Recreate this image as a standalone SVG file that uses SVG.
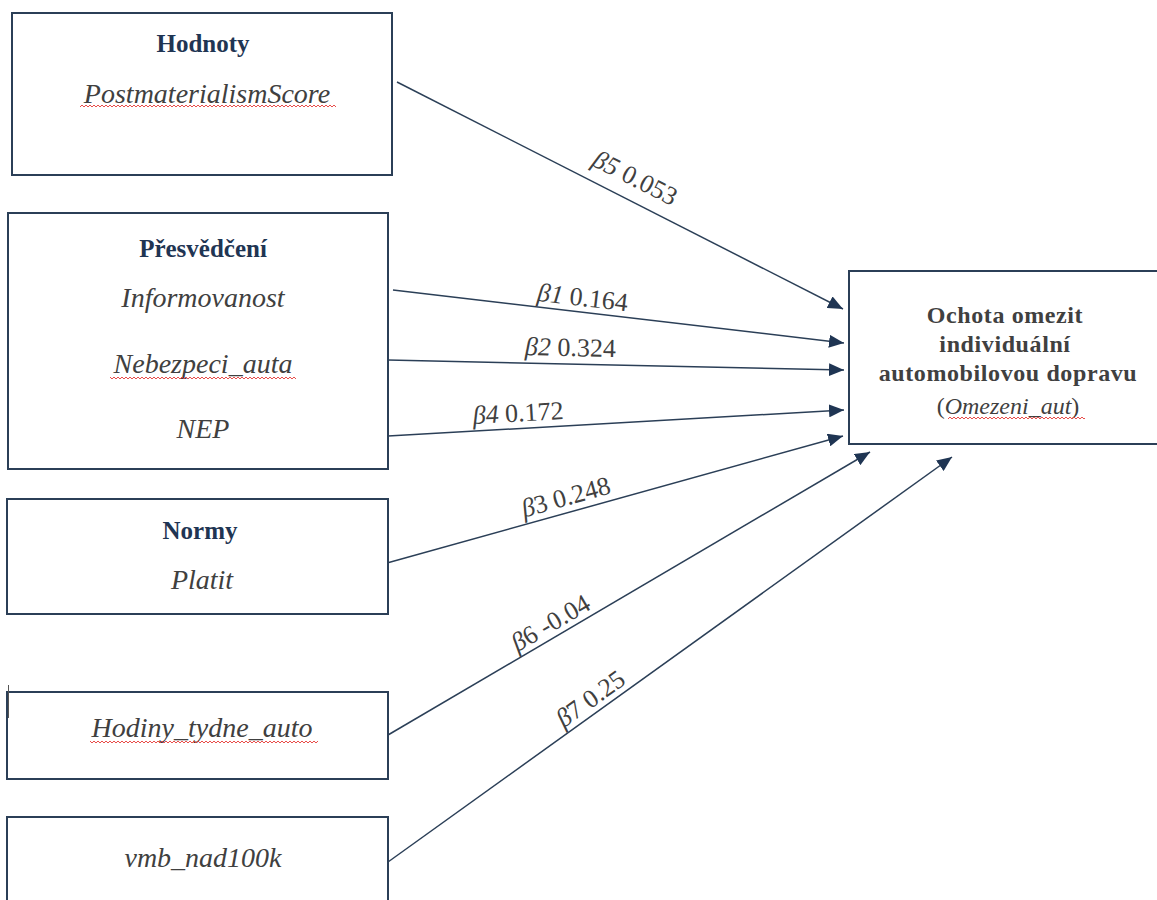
<svg xmlns="http://www.w3.org/2000/svg" width="1157" height="900" viewBox="0 0 1157 900">
<style>
.box{fill:#fff;stroke:#2b3f57;stroke-width:2}
.head{font-family:"Liberation Serif",serif;font-weight:bold;font-size:25px;fill:#1f3553;text-anchor:middle}
.var{font-family:"Liberation Serif",serif;font-style:italic;font-size:28px;fill:#404040;text-anchor:middle}
.tgt{font-family:"Liberation Serif",serif;font-weight:bold;font-size:24px;fill:#404040;text-anchor:middle;letter-spacing:0.6px}
.conn line{stroke:#2b3f57;stroke-width:1.5;marker-end:url(#ah)}
.lbl{font-family:"Liberation Serif",serif;font-size:26px;fill:#404040;text-anchor:middle}
.it{font-style:italic}
.sq{fill:url(#wave)}
</style>
<defs>
<marker id="ah" markerUnits="userSpaceOnUse" markerWidth="16" markerHeight="13" refX="15" refY="6.5" orient="auto">
<path d="M0,0 L15,6.5 L0,13 Z" fill="#1f3553"/>
</marker>
<pattern id="wave" patternUnits="userSpaceOnUse" width="4" height="4">
<path d="M0,3 L2,1 L4,3" fill="none" stroke="#e53935" stroke-width="0.9"/>
</pattern>
</defs>

<g id="conn" class="conn">
<line x1="397" y1="82" x2="843" y2="309"/>
<line x1="393" y1="290" x2="844" y2="343"/>
<line x1="388" y1="360" x2="844" y2="370"/>
<line x1="388" y1="436" x2="844" y2="410"/>
<line x1="387" y1="563" x2="843" y2="436"/>
<line x1="388" y1="735" x2="870" y2="452"/>
<line x1="388" y1="862" x2="952" y2="457"/>
</g>

<g id="labels">
<text class="lbl" transform="translate(625,198) rotate(26.97)" y="-14"><tspan class="it">β5</tspan> 0.053</text>
<text class="lbl" transform="translate(581,312) rotate(6.7)" y="-6"><tspan class="it">β1</tspan> 0.164</text>
<text class="lbl" transform="translate(570,364) rotate(1.26)" y="-8"><tspan class="it">β2</tspan> 0.324</text>
<text class="lbl" transform="translate(519,428.5) rotate(-3.26)" y="-7"><tspan class="it">β4</tspan> 0.172</text>
<text class="lbl" transform="translate(570,512) rotate(-15.6)" y="-7"><tspan class="it">β</tspan>3 0.248</text>
<text class="lbl" transform="translate(558,635.5) rotate(-30.4)" y="-6"><tspan class="it">β</tspan>6 -0.04</text>
<text class="lbl" transform="translate(599,710.5) rotate(-35.7)" y="-6"><tspan class="it">β</tspan>7 0.25</text>
</g>

<g id="hodnoty">
<rect class="box" x="12" y="13" width="380" height="162"/>
<text class="head" x="203" y="52">Hodnoty</text>
<text class="var" x="207" y="103">PostmaterialismScore</text>
<rect class="sq" x="80" y="104" width="256" height="4"/>
</g>

<g id="presvedceni">
<rect class="box" x="8" y="213" width="380" height="256"/>
<text class="head" x="203" y="257">Přesvědčení</text>
<text class="var" x="203" y="307">Informovanost</text>
<text class="var" x="203" y="373">Nebezpeci_auta</text>
<rect class="sq" x="110" y="375" width="186" height="4"/>
<text class="var" x="203" y="438">NEP</text>
</g>

<g id="normy">
<rect class="box" x="7" y="499" width="381" height="115"/>
<text class="head" x="200" y="539">Normy</text>
<text class="var" x="202" y="589">Platit</text>
</g>

<g id="hodiny">
<rect class="box" x="7" y="692" width="381" height="87"/>
<line x1="8.5" y1="685" x2="8.5" y2="718" stroke="#555" stroke-width="1"/>
<text class="var" x="202" y="737">Hodiny_tydne_auto</text>
<rect class="sq" x="90" y="739" width="228" height="4"/>
</g>

<g id="vmb">
<rect class="box" x="7" y="817" width="381" height="100"/>
<text class="var" x="203" y="867">vmb_nad100k</text>
</g>

<g id="ochota">
<rect class="box" x="849" y="271" width="320" height="173"/>
<text class="tgt" x="1005" y="323">Ochota omezit</text>
<text class="tgt" x="1005" y="352">individuální</text>
<text class="tgt" x="1008" y="381">automobilovou dopravu</text>
<text class="tgt" x="1008" y="414" style="font-weight:normal;letter-spacing:0">(<tspan class="it">Omezeni_aut</tspan>)</text>
<rect class="sq" x="948" y="415" width="137" height="4"/>
</g>
</svg>
